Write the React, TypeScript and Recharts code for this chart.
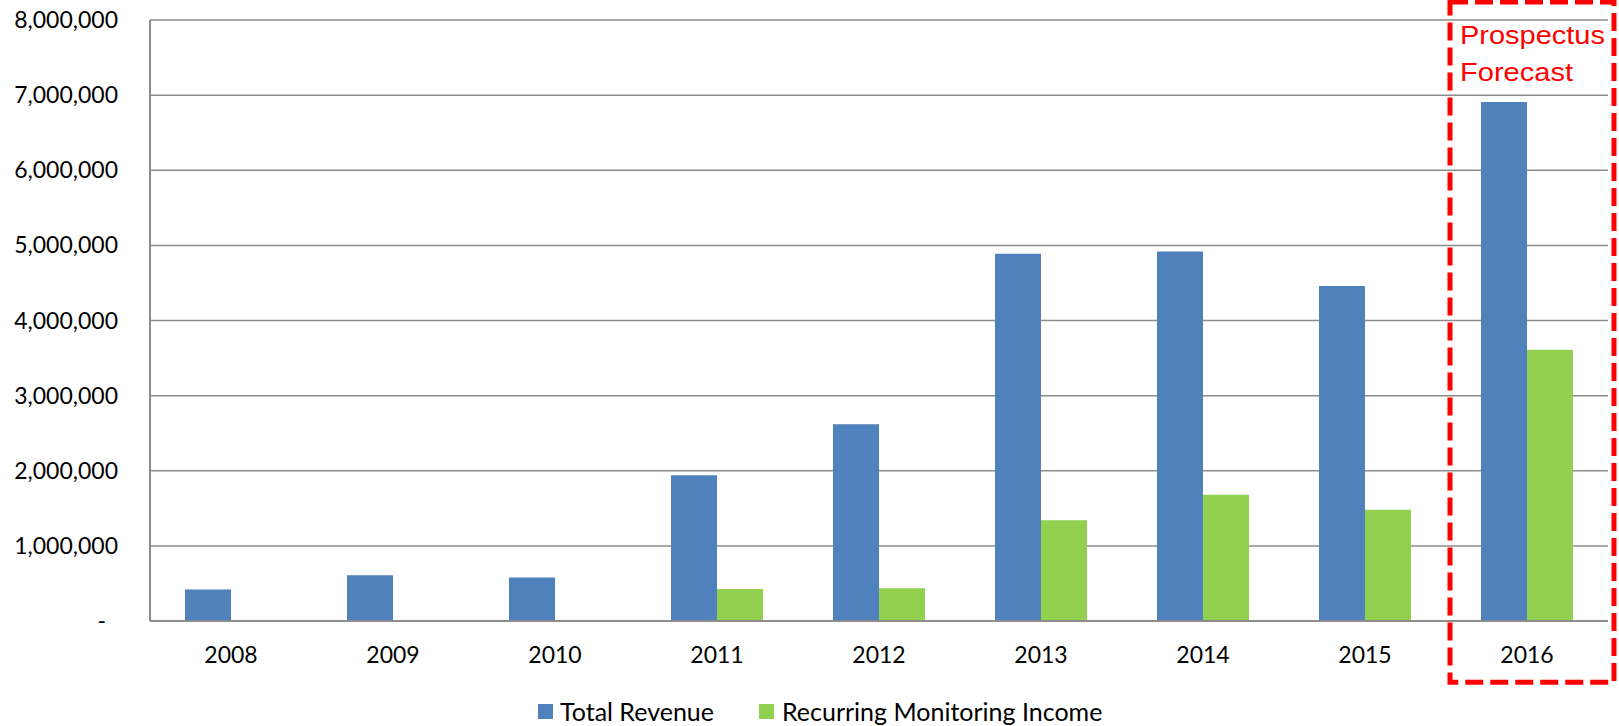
import React from 'react';
import { BarChart, Bar, XAxis, YAxis, CartesianGrid, Legend, ReferenceArea } from 'recharts';

// Values
const years = ['2008', '2009', '2010', '2011', '2012', '2013', '2014', '2015', '2016'];
const totalRevenue = [420000, 610000, 580000, 1940000, 2620000, 4890000, 4920000, 4460000, 6910000];
const recurringIncome = [null, null, null, 425000, 435000, 1340000, 1680000, 1480000, 3610000];
const yTicks = [0, 1000000, 2000000, 3000000, 4000000, 5000000, 6000000, 7000000, 8000000];

const data = years.map((year, i) => ({
  year,
  total: totalRevenue[i],
  recurring: recurringIncome[i],
}));

const FONT = 'Lato, "Open Sans", sans-serif';
const BLUE = '#4F81BD';
const GREEN = '#92D050';
const AXIS = '#8c8c8c';

const YTick = (props: any) => {
  const { x, y, payload } = props;
  if (payload.value === 0) {
    return (
      <text x={x - 12} y={y} dy={8} textAnchor="end" fontFamily={FONT} fontSize={23} fill="#000">
        -
      </text>
    );
  }
  return (
    <text x={x} y={y} dy={8} textAnchor="end" fontFamily={FONT} fontSize={23} fill="#000">
      {payload.value.toLocaleString('en-US')}
    </text>
  );
};

const XTick = (props: any) => {
  const { x, y, payload } = props;
  return (
    <text x={x} y={y} dy={42} textAnchor="middle" fontFamily={FONT} fontSize={23} fill="#000">
      {payload.value}
    </text>
  );
};

// dashed red frame around the forecast year, with its caption
const ForecastBox = (props: any) => {
  const { x, y, width, height } = props;
  const left = x + 4;
  return (
    <g>
      <rect
        x={left}
        y={y}
        width={width + 2}
        height={height}
        fill="none"
        stroke="#FF0000"
        strokeWidth={5}
        strokeDasharray="18 7"
      />
      <text x={left + 10} y={y + 42} fontFamily='"Liberation Sans", Arial, sans-serif' fontSize={26} fill="#FF0000"
        textLength={145} lengthAdjust="spacingAndGlyphs">
        Prospectus
      </text>
      <text x={left + 10} y={y + 79} fontFamily='"Liberation Sans", Arial, sans-serif' fontSize={26} fill="#FF0000"
        textLength={113} lengthAdjust="spacingAndGlyphs">
        Forecast
      </text>
    </g>
  );
};

const LegendContent = () => (
  <div style={{ display: 'flex', alignItems: 'center', height: 30, lineHeight: '30px', paddingLeft: 538, fontFamily: FONT, fontSize: 25 }}>
    <span style={{ width: 15, height: 15, background: BLUE, display: 'inline-block', marginRight: 7 }} />
    <span style={{ marginRight: 45 }}>Total Revenue</span>
    <span style={{ width: 15, height: 15, background: GREEN, display: 'inline-block', marginRight: 8 }} />
    <span>Recurring Monitoring Income</span>
  </div>
);

export default function App() {
  return (
    <div style={{ position: 'absolute', left: 0, top: 0, width: 1619, height: 726, background: '#fff', overflow: 'hidden' }}>
      <BarChart
        width={1619}
        height={726}
        data={data}
        margin={{ top: 20, right: 11, bottom: 0, left: 0 }}
        barGap={0}
      >
        <CartesianGrid vertical={false} stroke={AXIS} strokeWidth={1.5} />
        <XAxis
          dataKey="year"
          height={75}
          tick={<XTick />}
          tickLine={false}
          tickSize={0}
          tickMargin={0}
          axisLine={{ stroke: AXIS, strokeWidth: 2 }}
        />
        <YAxis
          width={150}
          domain={[0, 8000000]}
          ticks={yTicks}
          interval={0}
          tick={<YTick />}
          tickLine={false}
          tickSize={0}
          tickMargin={32}
          axisLine={{ stroke: AXIS, strokeWidth: 2 }}
        />
        <Legend
          content={<LegendContent />}
          verticalAlign="bottom"
          wrapperStyle={{ bottom: 0, left: 0, width: 1619 }}
        />
        <Bar dataKey="total" name="Total Revenue" fill={BLUE} barSize={46} isAnimationActive={false} />
        <Bar dataKey="recurring" name="Recurring Monitoring Income" fill={GREEN} barSize={46} isAnimationActive={false} />
        <ReferenceArea
          x1="2016"
          x2="2016"
          y1={-815000}
          y2={8240000}
          ifOverflow="visible"
          shape={<ForecastBox />}
        />
      </BarChart>
    </div>
  );
}
